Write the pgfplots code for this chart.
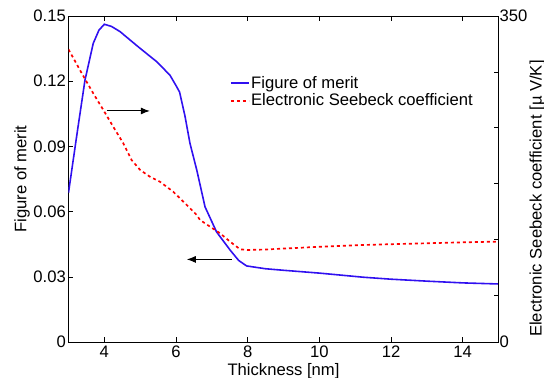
\documentclass[border=0pt]{standalone}
\usepackage{pgfplots}
\pgfplotsset{compat=1.18}
\usepackage{fontspec}
\setmainfont{Liberation Sans}
\usetikzlibrary{arrows.meta}
\definecolor{fomblue}{RGB}{48,16,240}
\definecolor{seebred}{RGB}{255,0,0}
\pgfplotstableread{
x y
3.00 0.0687
3.25 0.0972
3.46 0.1205
3.69 0.1374
3.85 0.1435
4.00 0.1462
4.20 0.1452
4.44 0.1428
4.70 0.1392
5.00 0.1351
5.46 0.1290
5.83 0.1228
6.00 0.1180
6.10 0.1150
6.25 0.1040
6.39 0.0914
6.58 0.0791
6.81 0.0622
7.13 0.0507
7.51 0.0423
7.75 0.0375
7.97 0.0350
8.50 0.0337
9.00 0.0330
10.00 0.0317
11.23 0.0298
12.00 0.0289
13.00 0.0280
14.00 0.0272
15.00 0.0267
}\fomdata
\pgfplotstableread{
x y
3.00 314.2
3.37 288.5
3.69 267.0
4.00 247.3
4.25 231.0
4.53 213.3
4.76 195.4
5.00 184.7
5.27 177.5
5.55 172.1
5.92 161.4
6.30 147.1
6.58 136.3
6.67 131.0
7.23 116.7
7.51 107.7
7.79 99.5
8.00 98.8
8.50 99.3
9.00 100.3
10.00 102.2
11.20 104.1
12.00 105.0
13.00 106.0
14.00 107.0
15.00 107.8
}\seebdata
\begin{document}
\begin{tikzpicture}[font=\fontsize{16.7}{20}\selectfont]
\pgfplotsset{
  every axis/.append style={
    scale only axis, width=430bp, height=326bp,
    xmin=3, xmax=15,
    tick align=inside, major tick length=5bp,
    every tick/.style={black, line width=0.6pt},
    axis line style={line width=0.8pt},
    /pgf/number format/assume math mode=true,
  },
}
\begin{axis}[name=ax,
  ymin=0, ymax=0.15,
  xtick={4,6,8,10,12,14}, xticklabels={4,6,8,10,12,14},
  ytick={0,0.03,0.06,0.09,0.12,0.15},
  yticklabels={0,0.03,0.06,0.09,0.12,0.15},
  xtick pos=both, ytick pos=left,
  yticklabel style={inner xsep=2.5bp},
  xticklabel style={inner ysep=4bp},
  xlabel={Thickness [nm]}, ylabel={Figure of merit},
  xlabel style={inner sep=0pt, yshift=-1bp},
  ylabel style={inner sep=1bp},
  legend style={draw=none, fill=none, at={(0.375,0.82)}, anchor=north west,
    inner sep=0pt, row sep=1bp, nodes={inner sep=1.5bp}},
  legend cell align=left,
  legend image code/.code={\draw[#1] (0bp,0bp) -- (18bp,0bp);},
]
\addplot[fomblue, line width=1.6pt] table[x=x,y=y] {\fomdata};
\addlegendentry{Figure of merit}
\addlegendimage{seebred, line width=1.7pt, dash pattern=on 3bp off 3bp}
\addlegendentry{Electronic Seebeck coefficient}
\draw[line width=1pt, -{Latex[length=9bp,width=7bp]}] (axis cs:4.07,0.1063) -- (axis cs:5.27,0.1063);
\draw[line width=1pt, -{Latex[length=9bp,width=7bp]}] (axis cs:7.55,0.0380) -- (axis cs:6.30,0.0380);
\end{axis}
\begin{axis}[
  ymin=0, ymax=350,
  axis x line=none, axis y line*=right,
  ytick={0,50,110,170,230,290,350},
  yticklabels={0,,,,,,350},
  ytick pos=right,
  yticklabel style={inner xsep=1bp},
  ylabel={Electronic Seebeck coefficient [µ V/K]},
  ylabel style={inner sep=1bp, at={(ticklabel cs:0.44)}},
]
\addplot[seebred, line width=1.7pt, dash pattern=on 3bp off 3bp] table[x=x,y=y] {\seebdata};
\end{axis}
\pgfresetboundingbox
\path[use as bounding box] (ax.south west) ++(-68.5bp,-36bp) rectangle ++(544bp,378bp);
\end{tikzpicture}
\end{document}
